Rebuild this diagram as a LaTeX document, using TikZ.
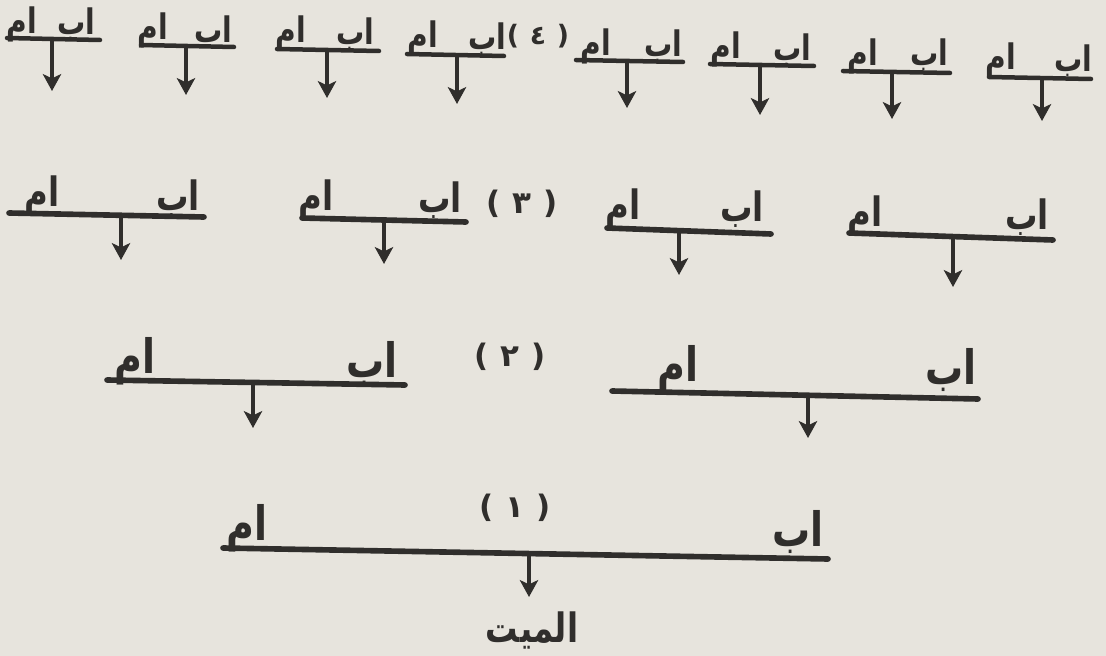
\documentclass[tikz,border=0pt]{standalone}
\usepackage{fontspec}
\usepackage{graphicx}
\usepackage{xcolor}
\usepackage{tikz}
\usetikzlibrary{arrows.meta, positioning, calc}
\TeXXeTstate=1
\newfontfamily\arabicfont[Script=Arabic]{DejaVu Sans}
\newfontfamily\latinfont{DejaVu Sans}
\definecolor{ink}{RGB}{48,46,44}
\definecolor{paper}{RGB}{231,228,221}
\newcommand{\artext}[1]{\scalebox{1}[1.25]{\beginR #1\endR}}
\newcommand{\levelno}[1]{{\latinfont(}\hspace{0.4em}#1\hspace{0.4em}{\latinfont)}}

\begin{document}
\begin{tikzpicture}[
        x=0.025cm, y=-0.025cm,
        kin/.style = {inner sep=0pt, anchor=base, text=ink, font=\arabicfont\bfseries\fontsize{27}{27}\selectfont},
        kinmid/.style = {kin, font=\arabicfont\bfseries\fontsize{23}{23}\selectfont},
        kinsmall/.style = {kin, font=\arabicfont\bfseries\fontsize{20}{20}\selectfont},
        tag/.style = {inner sep=0pt, anchor=center, text=ink, font=\arabicfont\bfseries\fontsize{22}{22}\selectfont},
        couple/.style = {draw=ink, line width=4pt, line cap=round},
        couplethin/.style = {couple, line width=3.2pt},
        descent/.style = {draw=ink, line width=2.8pt, -{Stealth[width=13pt, length=12pt, inset=3pt]}}
    ]

        % Paper
        \fill[paper] (0,0) rectangle (1106,656);

        % Level 4
        \coordinate (c41l) at (7,38);    \coordinate (c41r) at (100,40);
        \coordinate (c42l) at (141,45);  \coordinate (c42r) at (234,47);
        \coordinate (c43l) at (277,49);  \coordinate (c43r) at (379,51);
        \coordinate (c44l) at (407,54);  \coordinate (c44r) at (504,56);
        \coordinate (c45l) at (576,60);  \coordinate (c45r) at (683,62);
        \coordinate (c46l) at (710,64);  \coordinate (c46r) at (814,66);
        \coordinate (c47l) at (843,71);  \coordinate (c47r) at (950,73);
        \coordinate (c48l) at (989,77);  \coordinate (c48r) at (1091,79);

        \node (m41) [kinsmall] at (22,34) {\artext{ام}};
        \node (f41) [kinsmall] at (76,35) {\artext{اب}};
        \node (m42) [kinsmall] at (153,40) {\artext{ام}};
        \node (f42) [kinsmall] at (213,43) {\artext{اب}};
        \node (m43) [kinsmall] at (291,43) {\artext{ام}};
        \node (f43) [kinsmall] at (355,45) {\artext{اب}};
        \node (m44) [kinsmall] at (423,48) {\artext{ام}};
        \node (f44) [kinsmall] at (487,50) {\artext{اب}};
        \node (m45) [kinsmall] at (596,56) {\artext{ام}};
        \node (f45) [kinsmall] at (663,57) {\artext{اب}};
        \node (m46) [kinsmall] at (726,59) {\artext{ام}};
        \node (f46) [kinsmall] at (792,61) {\artext{اب}};
        \node (m47) [kinsmall] at (863,66) {\artext{ام}};
        \node (f47) [kinsmall] at (929,66) {\artext{اب}};
        \node (m48) [kinsmall] at (1001,70) {\artext{ام}};
        \node (f48) [kinsmall] at (1073,72) {\artext{اب}};

        \node (n4) [tag, font=\arabicfont\bfseries\fontsize{19}{19}\selectfont] at (538,36) {\levelno{٤}};

        \coordinate (a41s) at (52,39);    \coordinate (a41t) at (52,91);
        \coordinate (a42s) at (186,46);   \coordinate (a42t) at (186,95);
        \coordinate (a43s) at (327,50);   \coordinate (a43t) at (327,98);
        \coordinate (a44s) at (457,55);   \coordinate (a44t) at (457,104);
        \coordinate (a45s) at (627,61);   \coordinate (a45t) at (627,108);
        \coordinate (a46s) at (760,65);   \coordinate (a46t) at (760,115);
        \coordinate (a47s) at (892,72);   \coordinate (a47t) at (892,119);
        \coordinate (a48s) at (1042,78);  \coordinate (a48t) at (1042,121);

        \draw [couplethin] (c41l) -- (c41r);
        \draw [couplethin] (c42l) -- (c42r);
        \draw [couplethin] (c43l) -- (c43r);
        \draw [couplethin] (c44l) -- (c44r);
        \draw [couplethin] (c45l) -- (c45r);
        \draw [couplethin] (c46l) -- (c46r);
        \draw [couplethin] (c47l) -- (c47r);
        \draw [couplethin] (c48l) -- (c48r);

        \draw [descent] (a41s) -- (a41t);
        \draw [descent] (a42s) -- (a42t);
        \draw [descent] (a43s) -- (a43t);
        \draw [descent] (a44s) -- (a44t);
        \draw [descent] (a45s) -- (a45t);
        \draw [descent] (a46s) -- (a46t);
        \draw [descent] (a47s) -- (a47t);
        \draw [descent] (a48s) -- (a48t);

        % Level 3
        \coordinate (c31l) at (9,213);    \coordinate (c31r) at (204,217);
        \coordinate (c32l) at (302,218);  \coordinate (c32r) at (466,222);
        \coordinate (c33l) at (607,228);  \coordinate (c33r) at (771,234);
        \coordinate (c34l) at (849,233);  \coordinate (c34r) at (1053,240);

        \node (m31) [kinmid] at (42,207) {\artext{ام}};
        \node (f31) [kinmid] at (178,211) {\artext{اب}};
        \node (m32) [kinmid] at (316,211) {\artext{ام}};
        \node (f32) [kinmid] at (440,213) {\artext{اب}};
        \node (m33) [kinmid] at (623,220) {\artext{ام}};
        \node (f33) [kinmid] at (742,222) {\artext{اب}};
        \node (m34) [kinmid] at (865,227) {\artext{ام}};
        \node (f34) [kinmid] at (1027,230) {\artext{اب}};

        \node (n3) [tag] at (522,204) {\levelno{٣}};

        \coordinate (a31s) at (121,215);  \coordinate (a31t) at (121,260);
        \coordinate (a32s) at (384,220);  \coordinate (a32t) at (384,264);
        \coordinate (a33s) at (679,231);  \coordinate (a33t) at (679,275);
        \coordinate (a34s) at (953,237);  \coordinate (a34t) at (953,287);

        \draw [couple] (c31l) -- (c31r);
        \draw [couple] (c32l) -- (c32r);
        \draw [couple] (c33l) -- (c33r);
        \draw [couple] (c34l) -- (c34r);

        \draw [descent] (a31s) -- (a31t);
        \draw [descent] (a32s) -- (a32t);
        \draw [descent] (a33s) -- (a33t);
        \draw [descent] (a34s) -- (a34t);

        % Level 2
        \coordinate (c21l) at (107,380);  \coordinate (c21r) at (405,385);
        \coordinate (c22l) at (612,391);  \coordinate (c22r) at (978,399);

        \node (m21) [kin] at (135,373) {\artext{ام}};
        \node (f21) [kin] at (372,377) {\artext{اب}};
        \node (m22) [kin] at (678,381) {\artext{ام}};
        \node (f22) [kin] at (951,384) {\artext{اب}};

        \node (n2) [tag] at (510,357) {\levelno{٢}};

        \coordinate (a21s) at (253,382);  \coordinate (a21t) at (253,428);
        \coordinate (a22s) at (808,395);  \coordinate (a22t) at (808,438);

        \draw [couple] (c21l) -- (c21r);
        \draw [couple] (c22l) -- (c22r);

        \draw [descent] (a21s) -- (a21t);
        \draw [descent] (a22s) -- (a22t);

        % Level 1
        \coordinate (c11l) at (223,548);  \coordinate (c11r) at (828,559);

        \node (m11) [kin] at (247,540) {\artext{ام}};
        \node (f11) [kin] at (798,546) {\artext{اب}};

        \node (n1) [tag] at (515,508) {\levelno{١}};

        \coordinate (a11s) at (529,554);  \coordinate (a11t) at (529,597);

        \draw [couple] (c11l) -- (c11r);
        \draw [descent] (a11s) -- (a11t);

        % Deceased
        \node (dead) [kin, font=\arabicfont\bfseries\fontsize{23}{23}\selectfont] at (532,642) {\artext{الميت}};

    \end{tikzpicture}
\end{document}
